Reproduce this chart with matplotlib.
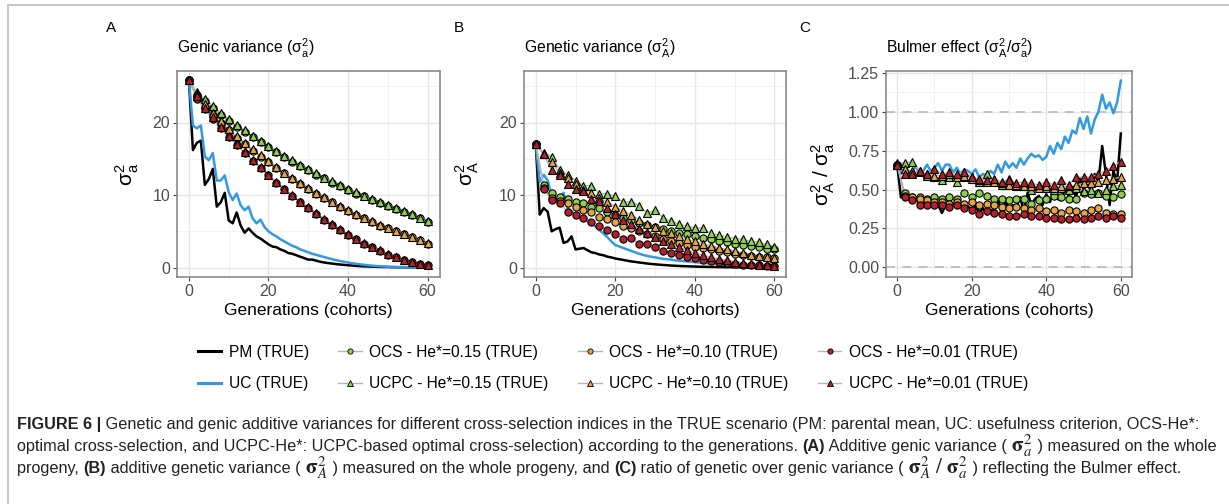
import matplotlib
matplotlib.use("Agg")
import matplotlib.pyplot as plt
from matplotlib.lines import Line2D

plt.rcParams['font.family'] = ['Liberation Sans', 'DejaVu Sans']
plt.rcParams['mathtext.fontset'] = 'custom'
plt.rcParams['mathtext.rm'] = 'Liberation Sans'
plt.rcParams['mathtext.it'] = 'Liberation Sans:italic'
plt.rcParams['mathtext.bf'] = 'Liberation Sans:bold'

# ---- data -------------------------------------------------------------
gens = list(range(61))          # every generation (PM / UC lines)
gens2 = list(range(0, 61, 2))   # every second generation (OCS / UCPC points)

# A : genic variance
A_PM = [25.8, 16.2, 17.2, 17.5, 11.4, 12.2, 13.6, 8.4, 9.0, 10.3,
        6.5, 6.1, 7.6, 5.8, 4.8, 5.4, 4.8, 4.3, 4.0, 3.6,
        3.2, 2.9, 2.8, 2.5, 2.3, 2.0, 1.9, 1.7, 1.5, 1.3,
        1.1, 1.1, 0.95, 0.8, 0.7, 0.62, 0.55, 0.48, 0.42, 0.37,
        0.32, 0.28, 0.24, 0.2, 0.17, 0.15, 0.13, 0.11, 0.09, 0.08,
        0.07, 0.06, 0.05, 0.04, 0.04, 0.03, 0.03, 0.02, 0.02, 0.02, 0.01]
A_UC = [25.8, 19.6, 19.2, 19.6, 15.3, 14.8, 15.8, 12.0, 12.0, 12.7,
        10.4, 9.3, 10.2, 8.6, 7.9, 8.4, 6.8, 6.1, 6.6, 5.6,
        5.0, 4.6, 4.3, 3.9, 3.6, 3.3, 3.0, 2.8, 2.5, 2.3,
        2.1, 1.9, 1.75, 1.6, 1.45, 1.3, 1.15, 1.02, 0.9, 0.8,
        0.7, 0.6, 0.52, 0.45, 0.38, 0.32, 0.27, 0.22, 0.18, 0.15,
        0.12, 0.1, 0.08, 0.07, 0.06, 0.05, 0.04, 0.03, 0.03, 0.02, 0.02]
A_OCS15 = [25.8, 23.8, 22.9, 22.0, 21.0, 20.2, 19.4, 18.7, 18.0, 17.3, 16.6, 15.9, 15.2, 14.6, 14.0, 13.4,
           12.8, 12.3, 11.7, 11.2, 10.7, 10.2, 9.8, 9.3, 8.9, 8.5, 8.1, 7.7, 7.3, 6.8, 6.3]
A_UCPC15 = [25.8, 24.2, 23.2, 22.3, 21.3, 20.5, 19.6, 18.9, 18.2, 17.5, 16.8, 16.1, 15.4, 14.8, 14.2, 13.6,
            13.0, 12.4, 11.9, 11.4, 10.9, 10.4, 9.9, 9.5, 9.0, 8.6, 8.2, 7.8, 7.4, 6.9, 6.4]
A_OCS10 = [25.8, 23.6, 22.2, 21.0, 19.9, 18.9, 17.9, 17.0, 16.1, 15.3, 14.5, 13.7, 13.0, 12.2, 11.5, 10.8,
           10.2, 9.6, 9.0, 8.4, 7.8, 7.3, 6.8, 6.3, 5.8, 5.4, 5.0, 4.6, 4.2, 3.8, 3.3]
A_UCPC10 = [25.8, 23.9, 22.5, 21.3, 20.2, 19.1, 18.1, 17.2, 16.3, 15.5, 14.7, 13.9, 13.1, 12.4, 11.7, 11.0,
            10.3, 9.7, 9.1, 8.5, 7.9, 7.4, 6.9, 6.4, 5.9, 5.5, 5.1, 4.6, 4.2, 3.8, 3.4]
A_OCS01 = [25.8, 23.3, 21.8, 20.5, 19.2, 18.0, 16.9, 15.8, 14.7, 13.7, 12.7, 11.7, 10.8, 9.9, 9.0, 8.2,
           7.4, 6.6, 5.9, 5.2, 4.5, 3.9, 3.3, 2.8, 2.3, 1.8, 1.5, 1.1, 0.8, 0.5, 0.3]
A_UCPC01 = [25.8, 23.6, 22.0, 20.7, 19.4, 18.2, 17.0, 15.9, 14.8, 13.8, 12.8, 11.8, 10.9, 10.0, 9.1, 8.3,
            7.5, 6.7, 6.0, 5.3, 4.6, 4.0, 3.4, 2.9, 2.4, 1.9, 1.5, 1.1, 0.8, 0.5, 0.3]

# B : genetic variance
B_PM = [17.1, 7.3, 8.2, 7.7, 5.0, 5.3, 5.5, 3.4, 3.6, 4.3,
        2.5, 2.6, 2.7, 2.4, 2.1, 2.0, 1.8, 1.7, 1.5, 1.4,
        1.25, 1.15, 1.05, 0.95, 0.85, 0.78, 0.7, 0.63, 0.56, 0.5,
        0.45, 0.4, 0.36, 0.32, 0.28, 0.25, 0.22, 0.2, 0.18, 0.16,
        0.14, 0.12, 0.11, 0.1, 0.09, 0.08, 0.07, 0.06, 0.05, 0.05,
        0.04, 0.04, 0.03, 0.03, 0.02, 0.02, 0.02, 0.02, 0.01, 0.01, 0.01]
B_UC = [17.1, 11.8, 12.8, 12.0, 10.0, 9.2, 9.6, 10.3, 8.2, 7.8,
        7.0, 6.9, 6.8, 6.4, 6.0, 5.7, 5.2, 4.7, 4.2, 3.6,
        3.1, 2.9, 2.7, 2.5, 2.3, 2.1, 1.9, 1.75, 1.6, 1.5,
        1.4, 1.3, 1.2, 1.15, 1.1, 1.0, 0.95, 0.9, 0.85, 0.8,
        0.75, 0.7, 0.65, 0.6, 0.55, 0.5, 0.45, 0.4, 0.36, 0.33,
        0.3, 0.27, 0.25, 0.22, 0.2, 0.18, 0.16, 0.14, 0.12, 0.1, 0.08]
B_OCS15 = [17.1, 11.4, 10.3, 9.7, 9.5, 9.0, 8.9, 8.3, 8.2, 7.7, 7.3, 6.8, 6.6, 6.1, 5.9, 5.6,
           5.3, 5.0, 4.8, 4.6, 4.4, 4.1, 3.9, 3.7, 3.5, 3.3, 3.1, 3.0, 2.8, 2.6, 2.5]
B_UCPC15 = [17.1, 15.8, 15.3, 13.5, 12.8, 12.0, 11.3, 11.3, 10.2, 10.2, 9.8, 9.0, 9.1, 8.5, 7.5, 7.9,
            6.9, 6.4, 6.0, 5.7, 5.5, 5.4, 4.7, 4.5, 4.2, 4.0, 3.9, 3.6, 3.5, 3.2, 2.9]
B_OCS10 = [17.1, 11.0, 9.6, 9.2, 8.9, 8.3, 8.0, 7.6, 7.0, 6.7, 6.3, 5.8, 5.4, 5.0, 4.6, 4.3,
           4.0, 3.7, 3.4, 3.1, 2.9, 2.7, 2.5, 2.3, 2.1, 1.9, 1.8, 1.6, 1.5, 1.4, 1.3]
B_UCPC10 = [17.1, 15.6, 14.6, 13.0, 12.3, 11.5, 10.7, 10.3, 9.6, 9.0, 8.4, 7.8, 7.3, 6.6, 6.0, 5.6,
            5.1, 4.7, 4.3, 3.9, 3.6, 3.3, 3.0, 2.7, 2.5, 2.3, 2.0, 1.8, 1.6, 1.5, 1.3]
B_OCS01 = [17.1, 10.9, 9.3, 8.9, 7.7, 7.2, 6.8, 6.3, 5.8, 5.2, 4.6, 4.0, 4.1, 3.3, 3.2, 2.8,
           2.3, 2.0, 1.8, 1.5, 1.3, 1.1, 0.9, 0.8, 0.6, 0.5, 0.4, 0.3, 0.3, 0.2, 0.2]
B_UCPC01 = [17.1, 15.6, 13.4, 12.7, 11.5, 10.8, 10.6, 9.5, 9.2, 8.2, 7.4, 6.6, 6.0, 5.3, 4.7, 4.2,
            3.7, 3.2, 2.8, 2.4, 2.0, 1.7, 1.4, 1.2, 1.0, 0.8, 0.6, 0.5, 0.4, 0.3, 0.2]

# C : Bulmer effect (ratio)
C_PM = [0.66, 0.45, 0.47, 0.44, 0.42, 0.44, 0.41, 0.43, 0.40, 0.41,
        0.39, 0.40, 0.35, 0.40, 0.38, 0.41, 0.39, 0.41, 0.38, 0.39,
        0.37, 0.40, 0.35, 0.38, 0.34, 0.37, 0.36, 0.44, 0.35, 0.43,
        0.37, 0.40, 0.39, 0.45, 0.36, 0.48, 0.40, 0.44, 0.46, 0.40,
        0.47, 0.42, 0.50, 0.44, 0.43, 0.50, 0.46, 0.52, 0.45, 0.57,
        0.50, 0.55, 0.48, 0.60, 0.55, 0.78, 0.60, 0.40, 0.62, 0.55, 0.86]
C_UC = [0.66, 0.60, 0.66, 0.62, 0.61, 0.65, 0.60, 0.62, 0.66, 0.62,
        0.64, 0.67, 0.62, 0.66, 0.66, 0.61, 0.64, 0.60, 0.63, 0.62,
        0.60, 0.63, 0.58, 0.60, 0.59, 0.62, 0.60, 0.66, 0.61, 0.68,
        0.64, 0.67, 0.64, 0.70, 0.66, 0.70, 0.73, 0.71, 0.72, 0.69,
        0.71, 0.78, 0.73, 0.80, 0.76, 0.84, 0.80, 0.88, 0.86, 0.96,
        0.89, 0.97, 0.86, 0.95, 1.00, 1.11, 1.02, 1.06, 0.99, 1.06, 1.20]
C_OCS15 = [0.66, 0.48, 0.45, 0.45, 0.44, 0.45, 0.44, 0.45, 0.44, 0.48, 0.45, 0.48, 0.46, 0.44, 0.44, 0.43,
           0.44, 0.44, 0.41, 0.43, 0.44, 0.46, 0.45, 0.44, 0.44, 0.48, 0.47, 0.48, 0.46, 0.45, 0.47]
C_UCPC15 = [0.67, 0.67, 0.68, 0.62, 0.59, 0.58, 0.56, 0.58, 0.55, 0.58, 0.58, 0.55, 0.60, 0.56, 0.53, 0.57,
            0.52, 0.52, 0.50, 0.52, 0.51, 0.50, 0.51, 0.50, 0.51, 0.49, 0.50, 0.48, 0.50, 0.52, 0.53]
C_OCS10 = [0.66, 0.46, 0.45, 0.44, 0.43, 0.42, 0.42, 0.41, 0.42, 0.41, 0.42, 0.40, 0.41, 0.40, 0.39, 0.38,
           0.39, 0.38, 0.37, 0.38, 0.36, 0.37, 0.35, 0.37, 0.36, 0.35, 0.37, 0.38, 0.35, 0.34, 0.34]
C_UCPC10 = [0.66, 0.63, 0.62, 0.61, 0.60, 0.59, 0.59, 0.60, 0.58, 0.59, 0.57, 0.56, 0.55, 0.55, 0.54, 0.53,
            0.53, 0.52, 0.52, 0.51, 0.52, 0.51, 0.52, 0.52, 0.53, 0.54, 0.54, 0.55, 0.56, 0.57, 0.58]
C_OCS01 = [0.66, 0.45, 0.43, 0.40, 0.40, 0.40, 0.40, 0.39, 0.40, 0.38, 0.37, 0.34, 0.36, 0.35, 0.34, 0.33,
           0.33, 0.34, 0.33, 0.33, 0.32, 0.32, 0.31, 0.31, 0.32, 0.31, 0.32, 0.33, 0.32, 0.33, 0.32]
C_UCPC01 = [0.66, 0.60, 0.60, 0.62, 0.60, 0.63, 0.60, 0.61, 0.60, 0.61, 0.58, 0.57, 0.56, 0.57, 0.55, 0.56,
            0.54, 0.55, 0.54, 0.53, 0.55, 0.53, 0.56, 0.53, 0.58, 0.58, 0.58, 0.60, 0.62, 0.65, 0.68]

labels = ["PM (TRUE)", "UC (TRUE)",
          "OCS - He*=0.15 (TRUE)", "UCPC - He*=0.15 (TRUE)",
          "OCS - He*=0.10 (TRUE)", "UCPC - He*=0.10 (TRUE)",
          "OCS - He*=0.01 (TRUE)", "UCPC - He*=0.01 (TRUE)"]

c_pm, c_uc = "black", "#3399E0"
c15, c10, c01 = "#8CD24A", "#E6A545", "#B5202A"
c_conn = "#B5B5B5"

W, H = 1229, 504
fig = plt.figure(figsize=(W / 100, H / 100), dpi=100)


def px_ax(l, t, r, b):
    return fig.add_axes([l / W, 1 - b / H, (r - l) / W, (b - t) / H])


def style(ax, ymaj, ymin, ylim):
    ax.set_xlim(-3, 63)
    ax.set_ylim(*ylim)
    ax.set_xticks([0, 20, 40, 60])
    ax.set_xticks([10, 30, 50], minor=True)
    ax.set_yticks(ymaj)
    ax.set_yticks(ymin, minor=True)
    ax.grid(which='major', color='#E6E6E6', lw=1.0)
    ax.grid(which='minor', color='#F0F0F0', lw=0.6)
    ax.set_axisbelow(True)
    for s in ax.spines.values():
        s.set_color('#808080')
        s.set_linewidth(1.1)
    ax.tick_params(which='major', length=3, width=0.8, color='#444444',
                   labelsize=11.5, labelcolor='#4D4D4D', pad=2)
    ax.tick_params(which='minor', length=0)
    ax.set_xlabel("Generations (cohorts)", fontsize=12.5, color='black')
    ax.xaxis.set_label_coords(0.5, -0.125)


def draw(ax, pm, uc, series):
    ax.plot(gens, pm, color=c_pm, lw=1.8, zorder=3)
    ax.plot(gens, uc, color=c_uc, lw=1.8, zorder=3)
    for vals, col, mk in series:
        ax.plot(gens2, vals, color=c_conn, lw=1.0, zorder=3.5)
        ax.plot(gens2, vals, ls='none', marker=mk, ms=5.2 if mk == 'o' else 5.8,
                mfc=col, mec='black', mew=0.8, zorder=4)


axA = px_ax(177, 71, 439.5, 277)
axB = px_ax(523.8, 71, 786.4, 277)
axC = px_ax(886, 71, 1132, 277)

draw(axA, A_PM, A_UC, [(A_OCS15, c15, 'o'), (A_OCS10, c10, 'o'), (A_OCS01, c01, 'o'),
                       (A_UCPC15, c15, '^'), (A_UCPC10, c10, '^'), (A_UCPC01, c01, '^')])
draw(axB, B_PM, B_UC, [(B_OCS15, c15, 'o'), (B_OCS10, c10, 'o'), (B_OCS01, c01, 'o'),
                       (B_UCPC15, c15, '^'), (B_UCPC10, c10, '^'), (B_UCPC01, c01, '^')])
for yv in (0.0, 1.0):
    axC.axhline(yv, color='#BDBDBD', lw=1.3, ls=(0, (5, 4)), zorder=2)
draw(axC, C_PM, C_UC, [(C_OCS15, c15, 'o'), (C_OCS10, c10, 'o'), (C_OCS01, c01, 'o'),
                       (C_UCPC15, c15, '^'), (C_UCPC10, c10, '^'), (C_UCPC01, c01, '^')])

style(axA, [0, 10, 20], [5, 15, 25], (-1.3, 27.1))
style(axB, [0, 10, 20], [5, 15, 25], (-1.3, 27.1))
style(axC, [0, 0.25, 0.5, 0.75, 1.0, 1.25], [0.125, 0.375, 0.625, 0.875, 1.125], (-0.062, 1.262))
axC.set_yticklabels(["0.00", "0.25", "0.50", "0.75", "1.00", "1.25"])

axA.set_ylabel(r"$\mathrm{\sigma}^2_\mathrm{a}$", fontsize=15, va='center')
axA.yaxis.set_label_coords(-0.19, 0.5)
axB.set_ylabel(r"$\mathrm{\sigma}^2_\mathrm{A}$", fontsize=15, va='center')
axB.yaxis.set_label_coords(-0.215, 0.5)
axC.set_ylabel(r"$\mathrm{\sigma}^2_\mathrm{A}\ /\ \mathrm{\sigma}^2_\mathrm{a}$", fontsize=15, va='center')
axC.yaxis.set_label_coords(-0.255, 0.5)

titles = [r"Genic variance ($\mathrm{\sigma}^2_\mathrm{a}$)",
          r"Genetic variance ($\mathrm{\sigma}^2_\mathrm{A}$)",
          r"Bulmer effect ($\mathrm{\sigma}^2_\mathrm{A}/\mathrm{\sigma}^2_\mathrm{a}$)"]
for ax, t in zip((axA, axB, axC), titles):
    ax.text(0, 1 + 23 / 206, t, transform=ax.transAxes, ha='left', va='center', fontsize=11.3)

for letter, x in (("A", 111), ("B", 459), ("C", 805)):
    fig.text(x / W, 1 - 28 / H, letter, ha='center', va='center', fontsize=11)

# legend
handles = [Line2D([], [], color=c_pm, lw=2.2), Line2D([], [], color=c_uc, lw=2.2)]
for col in (c15, c10, c01):
    handles.append(Line2D([], [], color=c_conn, lw=1, marker='o', ms=3.8, mfc=col, mec='black', mew=0.6))
    handles.append(Line2D([], [], color=c_conn, lw=1, marker='^', ms=4.3, mfc=col, mec='black', mew=0.6))
fig.legend(handles, labels, ncol=4, loc='center', bbox_to_anchor=(613 / W, 1 - 368 / H),
           frameon=False, fontsize=11.2, handlelength=1.5, handletextpad=0.5,
           columnspacing=1.9, labelspacing=1.05)

# outer frame
fig.add_artist(Line2D([8 / W, 8 / W], [0, 1 - 5 / H], transform=fig.transFigure, color='#C8C8C8', lw=1.5))
fig.add_artist(Line2D([8 / W, 1], [1 - 5 / H, 1 - 5 / H], transform=fig.transFigure, color='#C8C8C8', lw=1.5))

# caption
renderer = fig.canvas.get_renderer()
cap_fs = 11.7
sig = dict(math_fontfamily='stix', fontsize=cap_fs + 3.5)
cap_lines = [
    [("FIGURE 6 |", dict(weight='bold')),
     (" Genetic and genic additive variances for different cross-selection indices in the TRUE scenario "
      "(PM: parental mean, UC: usefulness criterion, OCS-He*:", {})],
    [("optimal cross-selection, and UCPC-He*: UCPC-based optimal cross-selection) according to the generations. ", {}),
     ("(A)", dict(weight='bold')), (" Additive genic variance ( ", {}), (r"$\mathbf{\sigma}^2_a$", sig),
     (" ) measured on the whole", {})],
    [("progeny, ", {}), ("(B)", dict(weight='bold')), (" additive genetic variance ( ", {}),
     (r"$\mathbf{\sigma}^2_A$", sig), (" ) measured on the whole progeny, and ", {}), ("(C)", dict(weight='bold')),
     (" ratio of genetic over genic variance ( ", {}), (r"$\mathbf{\sigma}^2_A\ /\ \mathbf{\sigma}^2_a$", sig),
     (" ) reflecting the Bulmer effect.", {})],
]
for i, pieces in enumerate(cap_lines):
    x = 17
    y = 424 + i * 22
    for txt, kw in pieces:
        opts = dict(fontsize=cap_fs, color='#222222')
        opts.update(kw)
        t = fig.text(x / W, 1 - y / H, txt, ha='left', va='center', **opts)
        x += t.get_window_extent(renderer).width

fig.savefig("out.png", dpi=100)
